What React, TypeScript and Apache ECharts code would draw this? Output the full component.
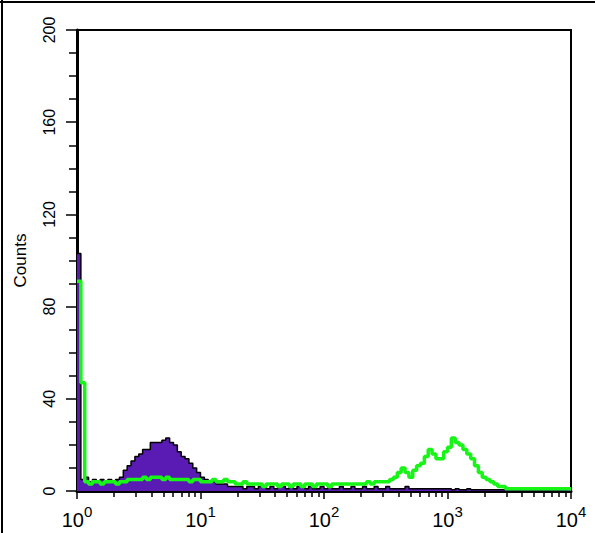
import React, { useEffect, useRef } from "react";
import * as echarts from "echarts";

// Histogram bins: 128 channels, 32 per decade, from 10^0 to 10^4
const BINS_PER_DECADE = 32;
const DECADES = [0, 1, 2, 3, 4];
const Y_TICKS_MAX = 200;

const purpleCounts = [
  103, 5, 6, 4, 5, 4, 5, 4, 5, 4,
  5, 6, 9, 11, 13, 15, 16, 18, 18, 21,
  21, 21, 22, 23, 21, 20, 17, 15, 14, 12,
  10, 8, 6, 5, 4, 4, 3, 3, 3, 2,
  2, 2, 2, 1, 2, 2, 1, 2, 2, 1,
  2, 1, 2, 2, 1, 2, 1, 2, 2, 1,
  2, 1, 1, 2, 1, 2, 1, 1, 2, 1,
  1, 2, 1, 1, 2, 1, 1, 2, 1, 1,
  2, 1, 1, 1, 1, 2, 1, 1, 1, 1,
  1, 1, 1, 1, 1, 1, 1, 0.5, 1, 0.5,
  0.5, 1, 0.5, 0.5, 0.5, 0.5, 0.5, 0.5, 0.5, 0.5,
  0.5, 0.5, 0.5, 0.5, 0.5, 0.5, 0.5, 0.5, 0.5, 0.5,
  0.5, 0.5, 0.5, 0.5, 0.5, 0.5, 0.5, 1,
];

const greenCounts = [
  91, 47, 4, 3, 4, 4, 3, 4, 4, 4,
  3, 4, 4, 5, 5, 5, 5, 6, 5, 6,
  6, 6, 5, 6, 5, 5, 5, 5, 5, 4,
  5, 5, 4, 4, 4, 5, 4, 4, 5, 4,
  4, 3, 3, 4, 3, 3, 3, 3, 2, 3,
  3, 3, 2, 3, 3, 2, 3, 3, 2, 3,
  3, 2, 3, 3, 3, 2, 3, 3, 3, 3,
  3, 3, 3, 3, 3, 4, 3, 4, 4, 4,
  4, 5, 6, 8, 10, 8, 6, 9, 11, 12,
  15, 18, 16, 14, 14, 17, 19, 23, 21, 20,
  18, 16, 14, 11, 8, 6, 5, 4, 3, 2,
  2, 1, 1, 1, 1, 1, 1, 1, 1, 1,
  1, 1, 1, 1, 1, 1, 1, 1,
];

const MINOR_MULTIPLIERS = [2, 3, 4, 5, 6, 7, 8, 9];

function toSteps(counts: number[]) {
  const pts: [number, number][] = counts.map((v, i) => [i / BINS_PER_DECADE, v]);
  pts.push([counts.length / BINS_PER_DECADE, counts[counts.length - 1]]);
  return pts;
}

const FONT = "'Liberation Sans', Arial, Helvetica, sans-serif";

export default function App() {
  const ref = useRef<HTMLDivElement>(null);
  useEffect(() => {
    if (!ref.current) return;
    const chart = echarts.init(ref.current, undefined, { renderer: "svg" });
    const minorTicks: number[] = [];
    for (let d = 0; d < DECADES.length - 1; d++) {
      for (const m of MINOR_MULTIPLIERS) minorTicks.push(d + Math.log10(m));
    }
    chart.setOption({
      animation: false,
      backgroundColor: "#fff",
      grid: {
        left: 77,
        top: 30,
        right: 24,
        bottom: 42,
        show: true,
        borderColor: "#000",
        borderWidth: 2,
        containLabel: false,
      },
      graphic: [
        { type: "line", shape: { x1: 2, y1: 0, x2: 2, y2: 533 }, style: { stroke: "#000", lineWidth: 2 } },
        { type: "line", shape: { x1: 0, y1: 2, x2: 595, y2: 2 }, style: { stroke: "#000", lineWidth: 2 } },
      ],
      xAxis: [
        {
          type: "value",
          min: 0,
          max: 4,
          interval: 1,
          axisLine: { show: true, lineStyle: { color: "#000", width: 3 } },
          axisTick: { show: true, length: 8, lineStyle: { color: "#000", width: 1.5 } },
          splitLine: { show: false },
          axisLabel: {
            margin: 13,
            formatter: (v: number) => `{b|10}{s|${v}}`,
            rich: {
              b: { fontSize: 20, fontFamily: FONT, color: "#000", verticalAlign: "bottom", lineHeight: 26 },
              s: { fontSize: 15, fontFamily: FONT, color: "#000", verticalAlign: "top", lineHeight: 15 },
            },
          },
        },
        {
          type: "value",
          min: 0,
          max: 4,
          position: "bottom",
          axisLine: { show: false },
          axisLabel: { show: false },
          splitLine: { show: false },
          axisTick: { show: true, length: 6, customValues: minorTicks, lineStyle: { color: "#000", width: 1.5 } },
        },
      ],
      yAxis: {
        type: "value",
        min: 0,
        max: Y_TICKS_MAX,
        interval: 40,
        name: "Counts",
        nameLocation: "middle",
        nameRotate: 90,
        nameGap: 48,
        nameTextStyle: { fontSize: 17, fontFamily: FONT, color: "#000" },
        axisLine: { show: true, lineStyle: { color: "#000", width: 3 } },
        axisTick: { show: true, length: 11, lineStyle: { color: "#000", width: 1.5 } },
        minorTick: { show: true, splitNumber: 4, length: 8, lineStyle: { color: "#000", width: 1.5 } },
        splitLine: { show: false },
        minorSplitLine: { show: false },
        axisLabel: { rotate: 90, margin: 20, fontSize: 16, fontFamily: FONT, color: "#000" },
      },
      series: [
        {
          type: "line",
          step: "end",
          symbol: "none",
          data: toSteps(purpleCounts),
          lineStyle: { color: "#000", width: 1.5 },
          areaStyle: { color: "#5a1ab4", opacity: 1 },
          z: 2,
        },
        {
          type: "line",
          step: "end",
          symbol: "none",
          data: toSteps(greenCounts),
          lineStyle: { color: "#17f517", width: 3.5 },
          z: 3,
        },
      ],
    });
    return () => chart.dispose();
  }, []);
  return <div ref={ref} style={{ position: "fixed", left: 0, top: 0, width: 595, height: 533 }} />;
}
